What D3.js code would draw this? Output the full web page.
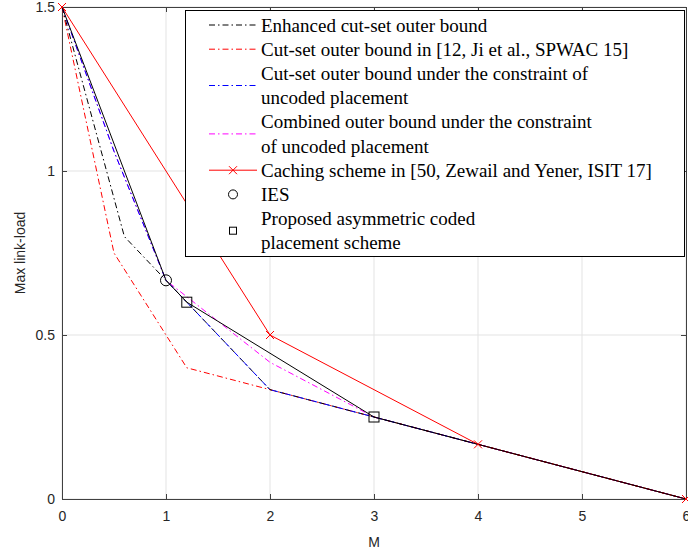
<!DOCTYPE html>
<html>
<head>
<meta charset="utf-8">
<script src="https://cdn.jsdelivr.net/npm/d3@7/dist/d3.min.js"></script>
<style>
  body { margin: 0; background: #fff; }
  svg { display: block; }
</style>
</head>
<body>
<div id="chart"></div>
<script>
// values
const xTicks = [0, 1, 2, 3, 4, 5, 6];
const yTicks = [0, 0.5, 1, 1.5];

const enhM = [0, 0.6, 1, 2, 3, 4, 6];
const enhLoad = [1.5, 0.8, 2/3, 1/3, 0.25, 1/6, 0];

const jiM = [0, 0.5, 1.2, 2, 3, 4, 6];
const jiLoad = [1.5, 0.75, 0.4, 1/3, 0.25, 1/6, 0];

const uncM = [0, 0.5, 1, 2, 3, 4, 6];
const uncLoad = [1.5, 1.06, 2/3, 1/3, 0.25, 1/6, 0];

const combM = [0, 0.5, 1, 2, 3, 4, 6];
const combLoad = [1.5, 1.06, 2/3, 0.4167, 0.25, 1/6, 0];

const zewM = [0, 2, 4, 6];
const zewLoad = [1.5, 0.5, 1/6, 0];

// achievable curve (no legend entry)
const achM = [0, 1, 1.2, 3, 4, 6];
const achLoad = [1.5, 2/3, 0.6, 0.25, 1/6, 0];

const iesM = [1];
const iesLoad = [2/3];

const propM = [1.2, 3];
const propLoad = [0.6, 0.25];

const legendLabels = [
  ["Enhanced cut-set outer bound"],
  ["Cut-set outer bound in [12, Ji et al., SPWAC 15]"],
  ["Cut-set outer bound under the constraint of", "uncoded placement"],
  ["Combined outer bound under the constraint", "of uncoded placement"],
  ["Caching scheme in [50, Zewail and Yener, ISIT 17]"],
  ["IES"],
  ["Proposed asymmetric coded", "placement scheme"]
];

const width = 688, height = 552;
const padL = 62, padR = 686, padT = 7, padB = 499;

const svg = d3.select("#chart").append("svg")
  .attr("width", width).attr("height", height);

const x = d3.scaleLinear().domain([0, 6]).range([padL, padR]);
const y = d3.scaleLinear().domain([0, 1.5]).range([padB, padT]);

// grid
svg.append("g").selectAll("line").data(xTicks).join("line")
  .attr("x1", d => x(d)).attr("x2", d => x(d))
  .attr("y1", padT).attr("y2", padB)
  .attr("stroke", "#e3e3e3").attr("stroke-width", 1);
svg.append("g").selectAll("line").data(yTicks).join("line")
  .attr("x1", padL).attr("x2", padR)
  .attr("y1", d => y(d)).attr("y2", d => y(d))
  .attr("stroke", "#e3e3e3").attr("stroke-width", 1);

// axes
const tickFont = "Liberation Sans, Arial, sans-serif";
const xAxis = svg.append("g").attr("transform", `translate(0,${padB})`)
  .call(d3.axisBottom(x).tickValues(xTicks).tickSizeInner(-5).tickSizeOuter(0).tickPadding(12).tickFormat(d3.format("d")));
const yAxis = svg.append("g").attr("transform", `translate(${padL},0)`)
  .call(d3.axisLeft(y).tickValues(yTicks).tickSizeInner(-5).tickSizeOuter(0).tickPadding(7).tickFormat(d => d));
const xTop = svg.append("g").attr("transform", `translate(0,${padT})`)
  .call(d3.axisTop(x).tickValues(xTicks).tickSizeInner(-5).tickSizeOuter(0).tickFormat(""));
const yRight = svg.append("g").attr("transform", `translate(${padR},0)`)
  .call(d3.axisRight(y).tickValues(yTicks).tickSizeInner(-5).tickSizeOuter(0).tickFormat(""));

[xAxis, yAxis, xTop, yRight].forEach(g => {
  g.select(".domain").attr("stroke", "#404040").attr("stroke-width", 1);
  g.selectAll(".tick line").attr("stroke", "#404040");
  g.selectAll("text").attr("font-family", tickFont).attr("font-size", 14).attr("fill", "#262626");
});

svg.append("text").attr("x", x(3)).attr("y", 547)
  .attr("text-anchor", "middle").attr("font-family", tickFont).attr("font-size", 14)
  .attr("fill", "#262626").text("M");
svg.append("text").attr("transform", `translate(25,${(padT + padB) / 2}) rotate(-90)`)
  .attr("text-anchor", "middle").attr("font-family", tickFont).attr("font-size", 14)
  .attr("fill", "#262626").text("Max link-load");

// curves
const dashDot = "6,3,1.5,3";
const line = d3.line().x(d => x(d[0])).y(d => y(d[1]));
const zipPts = (a, b) => a.map((v, i) => [v, b[i]]);

const plot = svg.append("g");
function drawCurve(ms, loads, color, dash) {
  plot.append("path").datum(zipPts(ms, loads))
    .attr("d", line).attr("fill", "none")
    .attr("stroke", color).attr("stroke-width", 1)
    .attr("stroke-dasharray", dash);
}

drawCurve(combM, combLoad, "#ff00ff", dashDot);
drawCurve(jiM, jiLoad, "#ff0000", dashDot);
drawCurve(enhM, enhLoad, "#000000", dashDot);
drawCurve(uncM, uncLoad, "#0000ff", dashDot);
drawCurve(zewM, zewLoad, "#ff0000", null);
drawCurve(achM, achLoad, "#000000", null);

function xMark(g, cx, cy, s) {
  g.append("path")
    .attr("d", `M${cx - s},${cy - s}L${cx + s},${cy + s}M${cx - s},${cy + s}L${cx + s},${cy - s}`)
    .attr("stroke", "#ff0000").attr("stroke-width", 1).attr("fill", "none");
}
zipPts(zewM, zewLoad).forEach(p => xMark(plot, x(p[0]), y(p[1]), 4));

plot.selectAll("circle.ies").data(zipPts(iesM, iesLoad)).join("circle")
  .attr("cx", d => x(d[0])).attr("cy", d => y(d[1])).attr("r", 5.5)
  .attr("fill", "none").attr("stroke", "#000").attr("stroke-width", 1);
plot.selectAll("rect.prop").data(zipPts(propM, propLoad)).join("rect")
  .attr("x", d => x(d[0]) - 5).attr("y", d => y(d[1]) - 5)
  .attr("width", 10).attr("height", 10)
  .attr("fill", "none").attr("stroke", "#000").attr("stroke-width", 1);

// legend
const lg = svg.append("g");
const lgLeft = 185, lgTop = 10, lgRight = 684, lgBottom = 256;
lg.append("rect").attr("x", lgLeft + 0.5).attr("y", lgTop + 0.5)
  .attr("width", lgRight - lgLeft).attr("height", lgBottom - lgTop)
  .attr("fill", "#fff").attr("stroke", "#000").attr("stroke-width", 1);

const rowH = 24.2;
const textX = 261, sx0 = 209, sx1 = 257, sxm = 233;
const styles = [
  { color: "#000", dash: dashDot, type: "line" },
  { color: "#ff0000", dash: dashDot, type: "line" },
  { color: "#0000ff", dash: dashDot, type: "line" },
  { color: "#ff00ff", dash: dashDot, type: "line" },
  { color: "#ff0000", dash: null, type: "linex" },
  { color: "#000", dash: null, type: "circle" },
  { color: "#000", dash: null, type: "square" }
];
let row = 0;
legendLabels.forEach((lines, i) => {
  const firstY = 25 + row * rowH;
  const midY = firstY + (lines.length - 1) * rowH / 2;
  lines.forEach((t, j) => {
    lg.append("text").attr("x", textX).attr("y", firstY + j * rowH)
      .attr("dy", "0.35em").attr("font-family", "Liberation Serif, Times New Roman, serif")
      .attr("font-size", 19).attr("fill", "#000").text(t);
  });
  const st = styles[i];
  if (st.type === "line" || st.type === "linex") {
    lg.append("line").attr("x1", sx0).attr("x2", sx1).attr("y1", midY).attr("y2", midY)
      .attr("stroke", st.color).attr("stroke-width", 1).attr("stroke-dasharray", st.dash);
    if (st.type === "linex") xMark(lg, sxm, midY, 4);
  } else if (st.type === "circle") {
    lg.append("circle").attr("cx", sxm).attr("cy", midY).attr("r", 4.5)
      .attr("fill", "none").attr("stroke", "#000");
  } else {
    lg.append("rect").attr("x", sxm - 3.5).attr("y", midY - 3.5).attr("width", 7).attr("height", 7)
      .attr("fill", "none").attr("stroke", "#000");
  }
  row += lines.length;
});
</script>
</body>
</html>
